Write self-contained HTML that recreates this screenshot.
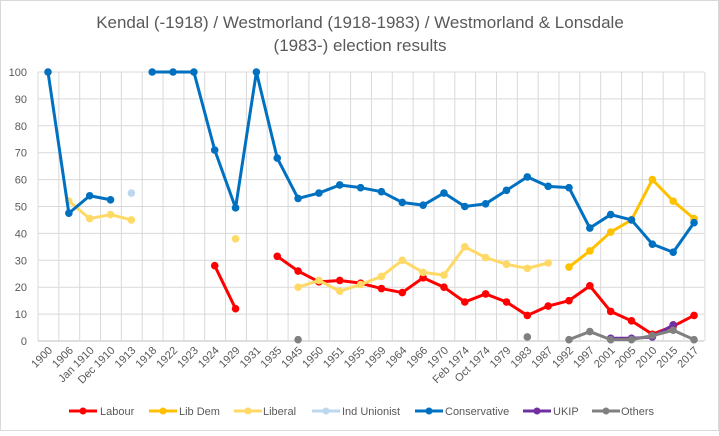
<!DOCTYPE html>
<html><head><meta charset="utf-8"><style>
body{margin:0;background:#fff}
svg{font-family:"Liberation Sans",sans-serif}
</style></head><body>
<svg id="c" width="719" height="431" xmlns="http://www.w3.org/2000/svg">
<rect x="0.5" y="0.5" width="718" height="430" fill="#fff" stroke="#d9d9d9"/>
<text x="360" y="28" text-anchor="middle" font-size="17" fill="#595959">Kendal (-1918) / Westmorland (1918-1983) / Westmorland &amp; Lonsdale</text>
<text x="360" y="51" text-anchor="middle" font-size="17" fill="#595959">(1983-) election results</text>
<g id="g"></g>
</svg>
<script>
const cats=["1900","1906","Jan 1910","Dec 1910","1913","1918","1922","1923","1924","1929","1931","1935","1945","1950","1951","1955","1959","1964","1966","1970","Feb 1974","Oct 1974","1979","1983","1987","1992","1997","2001","2005","2010","2015","2017"];
const X=i=>48+i*20.84, Y=v=>341-v*2.69;
const N=null;
function arr(o){let a=new Array(32).fill(N);for(const k in o)a[cats.indexOf(k)]=o[k];return a;}
const series=[
["Labour","#ff0000",arr({"1924":28,"1929":12,"1935":31.5,"1945":26,"1950":22,"1951":22.5,"1955":21.5,"1959":19.5,"1964":18,"1966":23.5,"1970":20,"Feb 1974":14.5,"Oct 1974":17.5,"1979":14.5,"1983":9.5,"1987":13,"1992":15,"1997":20.5,"2001":11,"2005":7.5,"2010":2.5,"2015":5.5,"2017":9.5})],
["Lib Dem","#ffc000",arr({"1992":27.5,"1997":33.5,"2001":40.5,"2005":45,"2010":60,"2015":52,"2017":45.5})],
["Liberal","#ffd966",arr({"1906":52,"Jan 1910":45.5,"Dec 1910":47,"1913":45,"1929":38,"1945":20,"1950":22.5,"1951":18.5,"1955":21,"1959":24,"1964":30,"1966":25.5,"1970":24.5,"Feb 1974":35,"Oct 1974":31,"1979":28.5,"1983":27,"1987":29})],
["Ind Unionist","#bdd7ee",arr({"1913":55})],
["Conservative","#0070c0",arr({"1900":100,"1906":47.5,"Jan 1910":54,"Dec 1910":52.5,"1918":100,"1922":100,"1923":100,"1924":71,"1929":49.5,"1931":100,"1935":68,"1945":53,"1950":55,"1951":58,"1955":57,"1959":55.5,"1964":51.5,"1966":50.5,"1970":55,"Feb 1974":50,"Oct 1974":51,"1979":56,"1983":61,"1987":57.5,"1992":57,"1997":42,"2001":47,"2005":45,"2010":36,"2015":33,"2017":44})],
["UKIP","#7030a0",arr({"2001":1,"2005":1,"2010":1.5,"2015":6})],
["Others","#808080",arr({"1945":0.5,"1983":1.5,"1992":0.5,"1997":3.5,"2001":0.5,"2005":0.5,"2010":2,"2015":4,"2017":0.5})]
];
let s="";
for(let v=0;v<=100;v+=10){s+=`<line x1="38" x2="704" y1="${Y(v)}" y2="${Y(v)}" stroke="${v?'#d9d9d9':'#bfbfbf'}"/>`;s+=`<text x="27" y="${Y(v)+4}" text-anchor="end" font-size="11" fill="#595959">${v}</text>`;}
for(let i=0;i<=32;i++){const x=38+i*20.84;s+=`<line x1="${x}" x2="${x}" y1="72" y2="341" stroke="#d9d9d9"/>`;}
cats.forEach((c,i)=>{s+=`<text transform="translate(${X(i)+5},351) rotate(-45)" text-anchor="end" font-size="11" fill="#595959">${c}</text>`;});
series.forEach(([n,col,d])=>{
 let segs=[],cur=[];d.forEach((v,i)=>{if(v==N){if(cur.length)segs.push(cur);cur=[];}else cur.push([X(i),Y(v)]);});if(cur.length)segs.push(cur);
 segs.forEach(sg=>{if(sg.length>1)s+=`<polyline fill="none" stroke="${col}" stroke-width="3" stroke-linejoin="round" points="${sg.map(q=>q.join(',')).join(' ')}"/>`;sg.forEach(q=>s+=`<circle cx="${q[0]}" cy="${q[1]}" r="3.8" fill="${col}"/>`);});
});
const lx=[69,149,234,312,415,523,592],tx=[100,179,263,342,445,553,621];
series.forEach(([n,col],k)=>{s+=`<line x1="${lx[k]}" x2="${lx[k]+28}" y1="411" y2="411" stroke="${col}" stroke-width="3"/><circle cx="${lx[k]+14}" cy="411" r="3.5" fill="${col}"/><text x="${tx[k]}" y="415" font-size="11" fill="#595959">${n}</text>`;});
document.getElementById('g').innerHTML=s;
</script>
</body></html>
